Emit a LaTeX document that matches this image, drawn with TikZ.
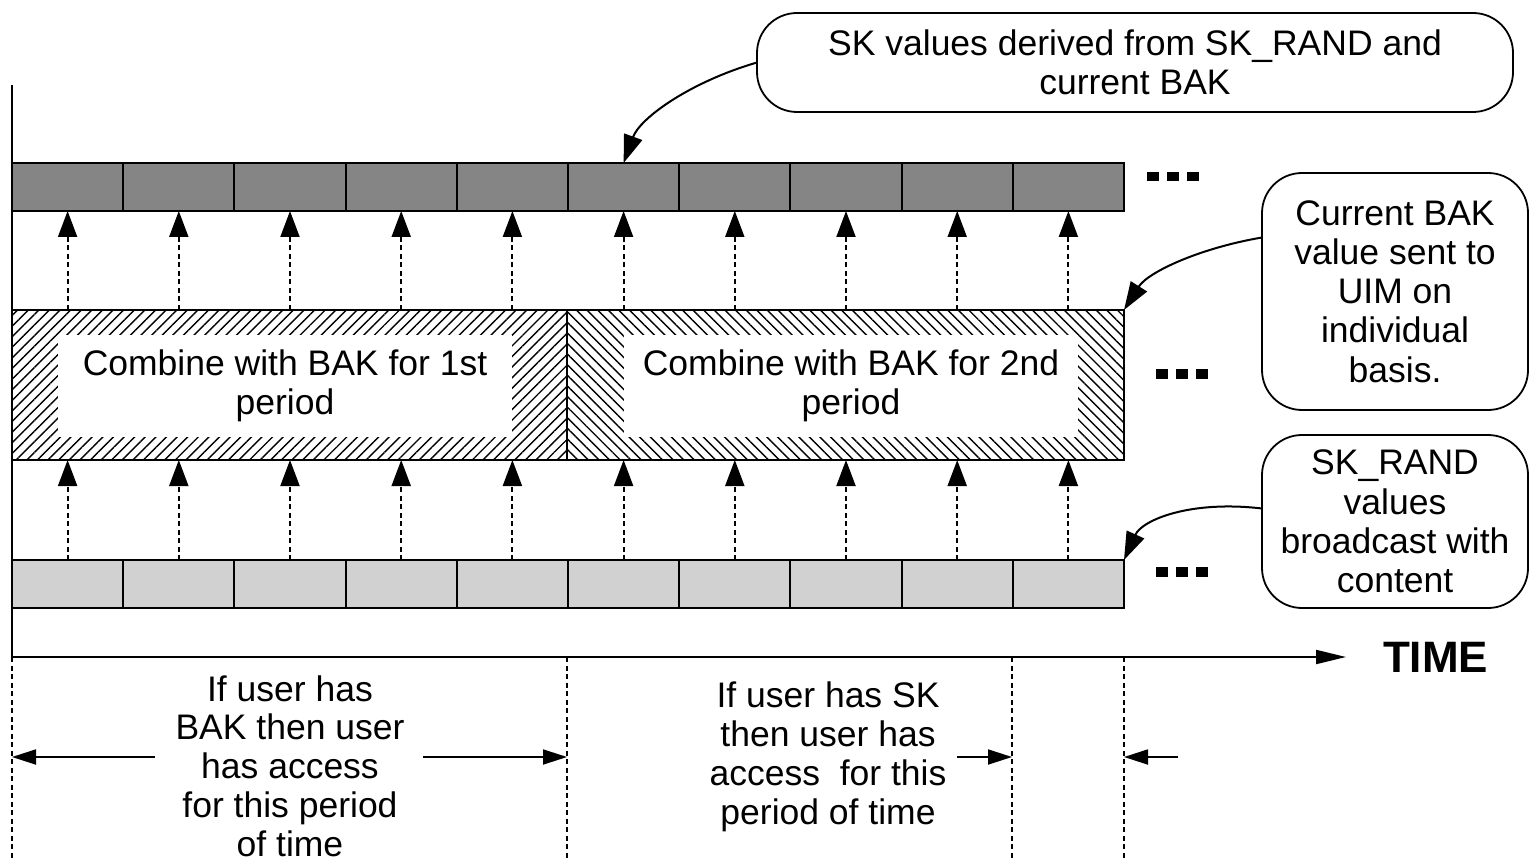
\documentclass[tikz,border=0pt]{standalone}
\usepackage{fontspec}
\setmainfont{Liberation Sans}
\usetikzlibrary{arrows.meta,patterns.meta,calc}
\definecolor{skfill}{gray}{0.52}
\definecolor{randfill}{gray}{0.82}
\begin{document}
\begin{tikzpicture}[x=1pt,y=-1pt,
  every node/.style={font=\fontsize{35.5}{39.2}\selectfont, inner sep=0pt, outer sep=0pt},
  cellbox/.style={draw, line width=2pt, minimum width=111.2pt, minimum height=48pt},
  skcell/.style={cellbox, fill=skfill},
  randcell/.style={cellbox, fill=randfill},
  upar/.style={line width=2pt, dash pattern=on 5pt off 3.5pt, -{Triangle[length=26pt,width=19pt]}},
  hatchL/.style={draw, line width=2pt, minimum width=555pt, minimum height=150pt,
     pattern={Lines[angle=45,distance=7.5pt,line width=1.4pt]}},
  hatchR/.style={draw, line width=2pt, minimum width=557pt, minimum height=150pt,
     pattern={Lines[angle=-45,distance=7.5pt,line width=1.4pt]}},
  innerbox/.style={fill=white, minimum width=454pt, minimum height=102pt, align=center},
  callout/.style={draw, line width=1.8pt, rounded corners=40pt, align=center},
  pointer/.style={line width=2pt, -{Triangle[length=28pt,width=19pt]}},
  axis/.style={line width=2pt},
  guide/.style={line width=1.6pt, dash pattern=on 5pt off 3.5pt},
  span/.style={line width=1.8pt, -{Triangle[length=24pt,width=15pt]}},
  dotsq/.style={fill=black}
]
\useasboundingbox (0,0) rectangle (1530,858);

% vertical axis and time axis
\coordinate (axtop) at (12,85);
\coordinate (origin) at (12,657);
\coordinate (axend) at (1346,657);
\draw[axis] (axtop) -- (origin);

% middle hatched blocks
\node[hatchL] (mid1) at (289.5,385) {};
\node[hatchR] (mid2) at (845.5,385) {};
\node[innerbox] (in1) at (285,386) {Combine with BAK for 1st\\period};
\node[innerbox] (in2) at (851,386) {Combine with BAK for 2nd\\period};

% cells
\foreach \i in {1,...,10}{
  \node[skcell] (s\i) at ({12+111.2*(\i-0.5)},187) {};
  \node[randcell] (r\i) at ({12+111.2*(\i-0.5)},584) {};
}
\foreach \i in {1,...,10}{
  \draw[upar] (s\i.south |- mid1.north) -- (s\i.south);
  \draw[upar] (r\i.north) -- (r\i.north |- mid1.south);
}

% ellipses
\foreach \x in {1147,1167,1187}{\fill[dotsq] (\x,172) rectangle ++(12,9);}
\foreach \x in {1156,1176,1196}{\fill[dotsq] (\x,369) rectangle ++(12,10);}
\foreach \x in {1156,1176,1196}{\fill[dotsq] (\x,567) rectangle ++(12,10);}

% callouts
\node[callout, minimum width=756pt, minimum height=99pt] (c1) at (1135,62.5)
  {SK values derived from SK\_RAND and\\current BAK};
\node[callout, minimum width=266pt, minimum height=237pt] (c2) at (1395,291.5)
  {Current BAK\\value sent to\\UIM on\\individual\\basis.};
\node[callout, minimum width=266pt, minimum height=173pt] (c3) at (1395,521.5)
  {SK\_RAND\\values\\broadcast with\\content};

\draw[pointer] (c1.west) .. controls (690,82) and (640,118) .. (s6.north);
\draw[pointer] ([yshift=54pt]c2.west) .. controls (1200,248) and (1148,272) .. (mid2.north east);
\draw[pointer] ([yshift=13pt]c3.west) .. controls (1190,500) and (1142,520) .. (r10.north east);

% time axis
\draw[axis, -{Triangle[length=30pt,width=14pt]}] (origin) -- (axend);
\node[font=\fontsize{44}{48}\bfseries, anchor=west] (time) at (1383,657) {TIME};

% bottom guides
\coordinate (g1t) at (12,657);   \coordinate (g1b) at (12,858);
\coordinate (g2t) at (567,657);  \coordinate (g2b) at (567,858);
\coordinate (g3t) at (1012,657); \coordinate (g3b) at (1012,858);
\coordinate (g4t) at (1124,657); \coordinate (g4b) at (1124,858);
\draw[guide] (g1t) -- (g1b);
\draw[guide] (g2t) -- (g2b);
\draw[guide] (g3t) -- (g3b);
\draw[guide] (g4t) -- (g4b);

\node[align=center, font=\fontsize{35.5}{38.7}\selectfont] (t1) at (290,766) {If user has\\BAK then user\\has access\\for this period\\of time};
\node[align=center] (t2) at (828,757) {If user has SK\\then user has\\access~ for this\\period of time};

\coordinate (a1) at (155,757);  \coordinate (a1e) at (g1t |- a1);
\coordinate (a2) at (423,757);  \coordinate (a2e) at (g2t |- a2);
\coordinate (a3) at (957,757);  \coordinate (a3e) at (g3t |- a3);
\coordinate (a4) at (1178,757); \coordinate (a4e) at (g4t |- a4);
\draw[span] (a1) -- (a1e);
\draw[span] (a2) -- (a2e);
\draw[span] (a3) -- (a3e);
\draw[span] (a4) -- (a4e);
\end{tikzpicture}
\end{document}
